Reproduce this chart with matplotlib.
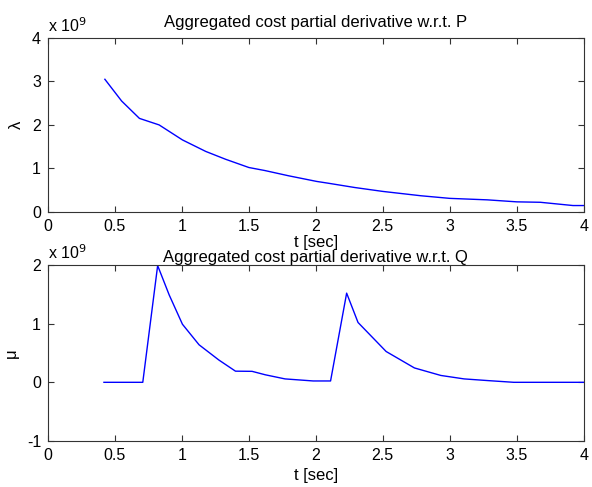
import matplotlib
matplotlib.use("Agg")
from matplotlib import pyplot as plt
from matplotlib.ticker import FuncFormatter

plt.rcParams['font.family'] = ['Liberation Sans', 'DejaVu Sans']

# lambda: aggregated cost partial derivative w.r.t. P  (values in units of 1e9)
t_p = [0.425, 0.55, 0.683, 0.83, 1.004, 1.178, 1.326, 1.5, 1.62, 1.796, 2.006,
       2.09, 2.29, 2.5, 2.785, 3.0, 3.28, 3.5, 3.676, 3.92, 4.0]
lam = [3.05, 2.55, 2.15, 2.0, 1.655, 1.39, 1.21, 1.02, 0.95, 0.83, 0.70,
       0.66, 0.56, 0.47, 0.37, 0.31, 0.276, 0.23, 0.22, 0.145, 0.145]

# mu: aggregated cost partial derivative w.r.t. Q  (values in units of 1e9)
t_q = [0.418, 0.708, 0.819, 0.905, 1.004, 1.128, 1.276, 1.40, 1.524, 1.623,
       1.77, 1.98, 2.11, 2.23, 2.315, 2.525, 2.736, 2.933, 3.107, 3.28, 3.478, 4.0]
mu = [0.0, 0.0, 1.99, 1.49, 0.99, 0.64, 0.38, 0.19, 0.187, 0.128,
      0.058, 0.023, 0.023, 1.52, 1.02, 0.525, 0.245, 0.117, 0.058, 0.03, 0.0, 0.0]

xticks = [0, 0.5, 1, 1.5, 2, 2.5, 3, 3.5, 4]
scale = 1e9

fig = plt.figure(figsize=(5.92, 4.87), dpi=100)
ax1 = fig.add_axes([0.081, 0.565, 0.905, 0.357])
ax2 = fig.add_axes([0.081, 0.0945, 0.905, 0.3614])

def style(ax):
    ax.tick_params(direction='in', top=True, right=True, labelsize=11.5,
                   length=4, width=0.8, color='#333333', pad=5)
    for s in ax.spines.values():
        s.set_color('#333333')
        s.set_linewidth(0.8)
    ax.xaxis.set_major_formatter(FuncFormatter(lambda v, p: '%g' % v))
    ax.yaxis.set_major_formatter(FuncFormatter(lambda v, p: '%g' % (v / scale)))
    ax.text(0.0, 1.015, r'x 10$^{9}$', transform=ax.transAxes, fontsize=11.5,
            ha='left', va='bottom')

ax1.plot(t_p, [v * scale for v in lam], color='blue', lw=1)
ax1.set_xlim(0, 4)
ax1.set_ylim(0, 4 * scale)
ax1.set_xticks(xticks)
ax1.set_yticks([0, 1 * scale, 2 * scale, 3 * scale, 4 * scale])
style(ax1)
ax1.set_title('Aggregated cost partial derivative w.r.t. P', fontsize=12, pad=8)
ax1.set_xlabel('t [sec]', fontsize=12, labelpad=1)
ax1.set_ylabel('λ', fontsize=12, labelpad=6)

ax2.plot(t_q, [v * scale for v in mu], color='blue', lw=1)
ax2.set_xlim(0, 4)
ax2.set_ylim(-1 * scale, 2 * scale)
ax2.set_xticks(xticks)
ax2.set_yticks([-1 * scale, 0, 1 * scale, 2 * scale])
style(ax2)
ax2.set_title('Aggregated cost partial derivative w.r.t. Q', fontsize=12, pad=2)
ax2.set_xlabel('t [sec]', fontsize=12, labelpad=4)
ax2.set_ylabel('μ', fontsize=12, labelpad=6)

fig.savefig('out.png', dpi=100)
